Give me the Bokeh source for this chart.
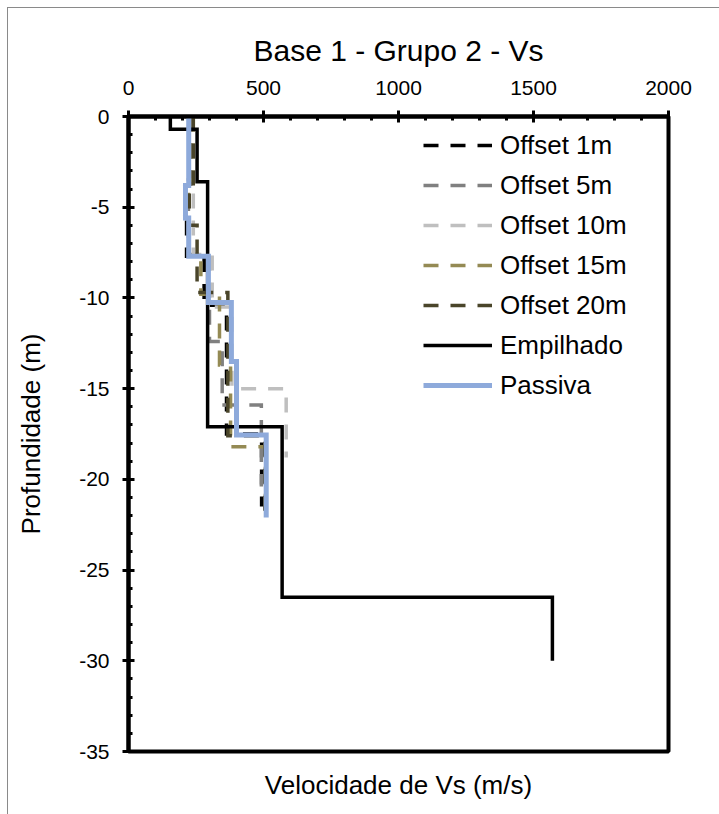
from bokeh.plotting import figure
from bokeh.models import (LinearAxis, FixedTicker, SingleIntervalTicker,
                          Legend, LegendItem)
from bokeh.embed import file_html
from bokeh.resources import INLINE

# Shear-wave velocity profiles (m/s) with the depth (m) of each layer's top;
# the last entry of each depth list is the bottom of the deepest layer.
offset1_vs = [230, 215, 280, 363, 493]
offset1_depth = [0, 4.0, 7.7, 10.4, 17.5, 21.5]

offset5_vs = [228, 222, 300, 347, 492]
offset5_depth = [0, 4.2, 7.6, 12.4, 15.9, 20.4]

offset10_vs = [225, 240, 310, 383, 584]
offset10_depth = [0, 4.0, 7.6, 10.5, 15.0, 18.8]

offset15_vs = [240, 222, 268, 337, 378, 507]
offset15_depth = [0, 3.5, 7.7, 9.8, 13.7, 18.2, 22.0]

offset20_vs = [240, 225, 254, 368, 505]
offset20_depth = [0, 4.0, 6.0, 9.7, 17.6, 22.0]

empilhado_vs = [155, 254, 293, 569, 1570]
empilhado_depth = [0, 0.7, 3.6, 17.1, 26.5, 30.0]

passiva_vs = [223, 211, 223, 296, 381, 400, 510]
passiva_depth = [0, 3.8, 5.6, 7.7, 10.25, 13.5, 17.55, 22.1]

x_ticks = [0, 500, 1000, 1500, 2000]
y_ticks = [0, -5, -10, -15, -20, -25, -30, -35]
y_tick_labels = ["0", "-5", "-10", "-15", "-20", "-25", "-30", "-35"]

FONT = "Liberation Sans"


def profile(vs, depth):
    """Turn layer velocities and boundaries into a stepped polyline."""
    xs, ys = [], []
    for i, v in enumerate(vs):
        xs += [v, v]
        ys += [-depth[i], -depth[i + 1]]
    return xs, ys


p = figure(frame_width=540, frame_height=635,
           min_border_left=120, min_border_top=108,
           min_border_right=51, min_border_bottom=63,
           x_range=(0, 2000), y_range=(-35, 0),
           x_axis_location="above",
           output_backend="svg", toolbar_location=None)

p.styles = {"margin-left": "7px", "margin-top": "7px",
            "border-left": "1px solid #8a8a8a",
            "border-top": "1px solid #8a8a8a"}

p.title.text = "Base 1 - Grupo 2 - Vs"
p.title.text_font = FONT
p.title.text_font_size = "30px"
p.title.text_font_style = "normal"
p.title.text_color = "black"
p.title.align = "center"
p.title.offset = 0
p.title.standoff = 21

p.grid.visible = False
p.outline_line_color = "black"
p.outline_line_width = 4
p.background_fill_color = "white"

xa = p.xaxis[0]
xa.ticker = SingleIntervalTicker(interval=500, num_minor_ticks=5)
ya = p.yaxis[0]
ya.ticker = SingleIntervalTicker(interval=5, num_minor_ticks=5)
ya.major_label_overrides = {t: s for t, s in zip(y_ticks, y_tick_labels)}
ya.axis_label = "Profundidade (m)"

for ax in (xa, ya):
    ax.axis_line_width = 4
    ax.axis_line_color = "black"
    ax.major_tick_in = 6
    ax.major_tick_out = 6
    ax.major_tick_line_width = 3
    ax.minor_tick_in = 4
    ax.minor_tick_out = 0
    ax.minor_tick_line_width = 3
    ax.major_label_text_font = FONT
    ax.major_label_text_font_size = "21px"
    ax.major_label_text_color = "black"
    ax.axis_label_text_font = FONT
    ax.axis_label_text_font_size = "26px"
    ax.axis_label_text_font_style = "normal"
    ax.axis_label_text_color = "black"
xa.major_label_standoff = 16
ya.major_label_standoff = 13
ya.axis_label_standoff = 30

# Bottom title for the velocity axis (ticks are drawn on the top axis)
bottom = LinearAxis(ticker=FixedTicker(ticks=[]), axis_label="Velocidade de Vs (m/s)",
                    axis_line_color=None, major_tick_line_color=None,
                    minor_tick_line_color=None,
                    axis_label_text_font=FONT, axis_label_text_font_size="26px",
                    axis_label_text_font_style="normal",
                    axis_label_text_color="black", axis_label_standoff=18)
p.add_layout(bottom, "below")

series = [
    ("Offset 1m", offset1_vs, offset1_depth, "#000000", 3.5, "15 12"),
    ("Offset 5m", offset5_vs, offset5_depth, "#808080", 3.5, "15 12"),
    ("Offset 10m", offset10_vs, offset10_depth, "#bfbfbf", 3.5, "15 12"),
    ("Offset 15m", offset15_vs, offset15_depth, "#948a54", 3.5, "15 12"),
    ("Offset 20m", offset20_vs, offset20_depth, "#4a452a", 3.5, "15 12"),
    ("Empilhado", empilhado_vs, empilhado_depth, "#000000", 3.5, "solid"),
    ("Passiva", passiva_vs, passiva_depth, "#8eaadb", 5, "solid"),
]

items = []
for name, vs, depth, color, width, dash in series:
    xs, ys = profile(vs, depth)
    r = p.line(xs, ys, line_color=color, line_width=width, line_dash=dash,
               line_join="miter", line_cap="butt")
    items.append(LegendItem(label=name, renderers=[r]))

legend = Legend(items=items, location=(295, 346),
                glyph_width=69, glyph_height=40, label_height=40,
                spacing=0, padding=0, margin=0, label_standoff=8,
                label_text_font=FONT, label_text_font_size="26px",
                label_text_color="black",
                border_line_color=None, background_fill_alpha=0)
p.add_layout(legend)

open("out.html", "w").write(file_html(p, INLINE))
